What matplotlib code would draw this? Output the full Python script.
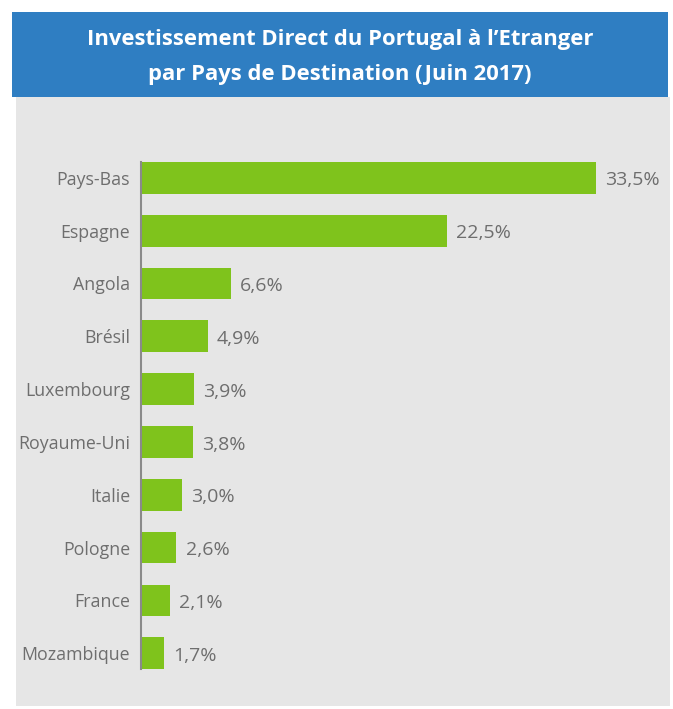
import matplotlib.pyplot as plt
from matplotlib.patches import Rectangle

# Données
pays = ['Pays-Bas', 'Espagne', 'Angola', 'Brésil', 'Luxembourg',
        'Royaume-Uni', 'Italie', 'Pologne', 'France', 'Mozambique']
valeurs = [33.5, 22.5, 6.6, 4.9, 3.9, 3.8, 3.0, 2.6, 2.1, 1.7]
titre = "Investissement Direct du Portugal à l’Etranger\npar Pays de Destination (Juin 2017)"

BLEU = '#2f7ec2'
VERT = '#7fc31c'
GRIS_FOND = '#e6e6e6'
GRIS_TEXTE = '#6e6e6e'

W, H = 673, 709
plt.rcParams['font.family'] = ['Open Sans', 'DejaVu Sans']

fig = plt.figure(figsize=(W / 100, H / 100), dpi=100)
fig.patch.set_facecolor('white')

# fond gris et bandeau bleu
fig.patches.append(Rectangle((16 / W, 1 - 706 / H), (670 - 16) / W, (706 - 97) / H,
                             transform=fig.transFigure, facecolor=GRIS_FOND,
                             edgecolor='none', zorder=-2))
fig.patches.append(Rectangle((12 / W, 1 - 97 / H), (668 - 12) / W, (97 - 12) / H,
                             transform=fig.transFigure, facecolor=BLEU,
                             edgecolor='none', zorder=-1))
fig.text(340 / W, 1 - 57 / H, titre, ha='center', va='center', color='white',
         fontsize=15.8, fontweight='bold', linespacing=1.9)

# graphique
left, right = 141, 660
top, bottom = 162, 669
ax = fig.add_axes([left / W, 1 - bottom / H, (right - left) / W, (bottom - top) / H])
ax.set_zorder(2)
ax.set_facecolor('none')

y = list(range(len(pays)))
ax.barh(y, valeurs, height=0.6, color=VERT, zorder=2)
ax.set_ylim(len(pays) - 0.7, -0.3)
ax.set_xlim(0, (right - left) / 13.58)

for yi, v in zip(y, valeurs):
    ax.text(v + 0.7, yi + 0.05, f"{v:.1f}%".replace('.', ','), va='center', ha='left',
            color=GRIS_TEXTE, fontsize=14)

ax.set_yticks(y)
ax.set_yticklabels(pays, color=GRIS_TEXTE, fontsize=12.8)
ax.tick_params(axis='y', length=0, pad=8)
ax.set_xticks([])
for s in ['top', 'right', 'bottom']:
    ax.spines[s].set_visible(False)
ax.spines['left'].set_color('#8a8a8a')
ax.spines['left'].set_linewidth(1.5)

fig.savefig('out.png', dpi=100)
